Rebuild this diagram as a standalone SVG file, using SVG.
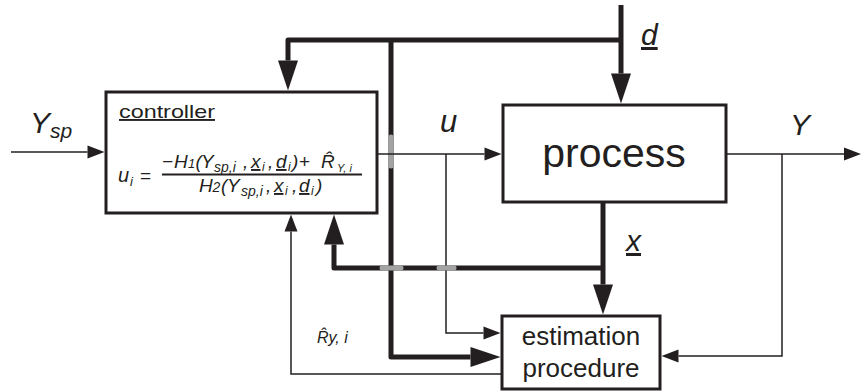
<svg xmlns="http://www.w3.org/2000/svg" width="861" height="392" viewBox="0 0 861 392">
<style>
text{font-family:"Liberation Sans",Arial,sans-serif;fill:#231f20}
.it{font-style:italic}
.box{fill:#fff;stroke:#231f20;stroke-width:3}
.thick{fill:none;stroke:#231f20;stroke-width:5;stroke-linejoin:round}
.thin{fill:none;stroke:#231f20;stroke-width:1.5}
.gray{stroke:#a3a3a3;stroke-width:5;stroke-linecap:round}
.ul{text-decoration:underline}
</style>
<defs>
<marker id="ah" markerUnits="userSpaceOnUse" markerWidth="30" markerHeight="20" viewBox="0 0 30 20" refX="0" refY="10" orient="auto" overflow="visible">
<path d="M0,0 L30,10 L0,20 z" fill="#231f20"/>
</marker>
<marker id="as" markerUnits="userSpaceOnUse" markerWidth="17" markerHeight="13" viewBox="0 0 17 13" refX="0" refY="6.5" orient="auto" overflow="visible">
<path d="M0,0 L17,6.5 L0,13 z" fill="#231f20"/>
</marker>
</defs>
<rect width="861" height="392" fill="#fff"/>

<g id="connectors">
<path class="thick" d="M621,5 V73.5" marker-end="url(#ah)"/>
<path class="thick" d="M621,40 H288 V60.5" marker-end="url(#ah)"/>
<path class="thick" d="M391,40 V357 H470.5" marker-end="url(#ah)"/>
<path class="thick" d="M603,202 V284.5" marker-end="url(#ah)"/>
<path class="thick" d="M603,268 H334 V244.5" marker-end="url(#ah)"/>
<path class="thin" d="M11,152 H87.5" marker-end="url(#as)"/>
<line class="gray" x1="391" y1="137" x2="391" y2="166"/>
<path class="thin" d="M377,154 H484.5" marker-end="url(#as)"/>
<path class="thin" d="M446,154 V333 H483.5" marker-end="url(#as)"/>
<path class="thin" d="M726,154 H844" marker-end="url(#as)"/>
<path class="thin" d="M782,154 V356 H678.5" marker-end="url(#as)"/>
<path class="thin" d="M502,374 H291 V231.5" marker-end="url(#as)"/>
<line class="gray" x1="382" y1="268" x2="401" y2="268"/>
<line class="gray" x1="439" y1="268" x2="454" y2="268"/>
</g>

<g id="controller">
<rect class="box" x="106" y="92" width="271" height="121"/>
<text x="119" y="118" font-size="19" class="ul" textLength="96" lengthAdjust="spacingAndGlyphs">controller</text>
<text x="118" y="182" font-size="20" class="it">u<tspan x="130" y="186" font-size="13">i</tspan></text>
<text x="140" y="182" font-size="19">=</text>
<text y="168" font-size="19" class="it"><tspan x="162">−</tspan><tspan x="174">H</tspan><tspan x="188" font-size="13">1</tspan><tspan x="195.5">(</tspan><tspan x="201">Y</tspan><tspan x="214" y="172" font-size="14">sp,i</tspan><tspan x="243" y="168">,</tspan><tspan x="251" class="ul">x</tspan><tspan x="262" y="171" font-size="12">i</tspan><tspan x="268" y="168">,</tspan><tspan x="276" class="ul">d</tspan><tspan x="288" y="171" font-size="12">i</tspan><tspan x="292" y="168">)</tspan><tspan x="299" font-style="normal">+</tspan><tspan x="321">R̂</tspan><tspan x="337" y="172" font-size="11">Y, i</tspan></text>
<line x1="162" y1="174.5" x2="362" y2="174.5" stroke="#231f20" stroke-width="1.8"/>
<text y="192" font-size="19" class="it"><tspan x="199">H</tspan><tspan x="212.5" font-size="14">2</tspan><tspan x="221">(</tspan><tspan x="227">Y</tspan><tspan x="241" y="196" font-size="14">sp,i</tspan><tspan x="266" y="192">,</tspan><tspan x="274" class="ul">x</tspan><tspan x="285" y="195" font-size="12">i</tspan><tspan x="292" y="192">,</tspan><tspan x="299" class="ul">d</tspan><tspan x="311" y="195" font-size="12">i</tspan><tspan x="316" y="192">)</tspan></text>
</g>

<g id="process">
<rect class="box" x="503" y="105" width="223" height="97"/>
<text x="614" y="167" font-size="41" text-anchor="middle">process</text>
</g>

<g id="estimation">
<rect class="box" x="502" y="316" width="158" height="73"/>
<text x="581" y="345" font-size="26" text-anchor="middle">estimation</text>
<text x="581" y="377" font-size="26" text-anchor="middle">procedure</text>
</g>

<g id="labels">
<text x="30" y="133" font-size="30" class="it">Y<tspan font-size="21" dy="5">sp</tspan></text>
<text x="440" y="132" font-size="31" class="it">u</text>
<text x="790" y="135" font-size="30" class="it">Y</text>
<text x="641" y="45" font-size="30" class="it ul">d</text>
<text x="626" y="251" font-size="30" class="it ul">x</text>
<text x="317" y="343" font-size="16" class="it">R̂y, i</text>
</g>
</svg>
